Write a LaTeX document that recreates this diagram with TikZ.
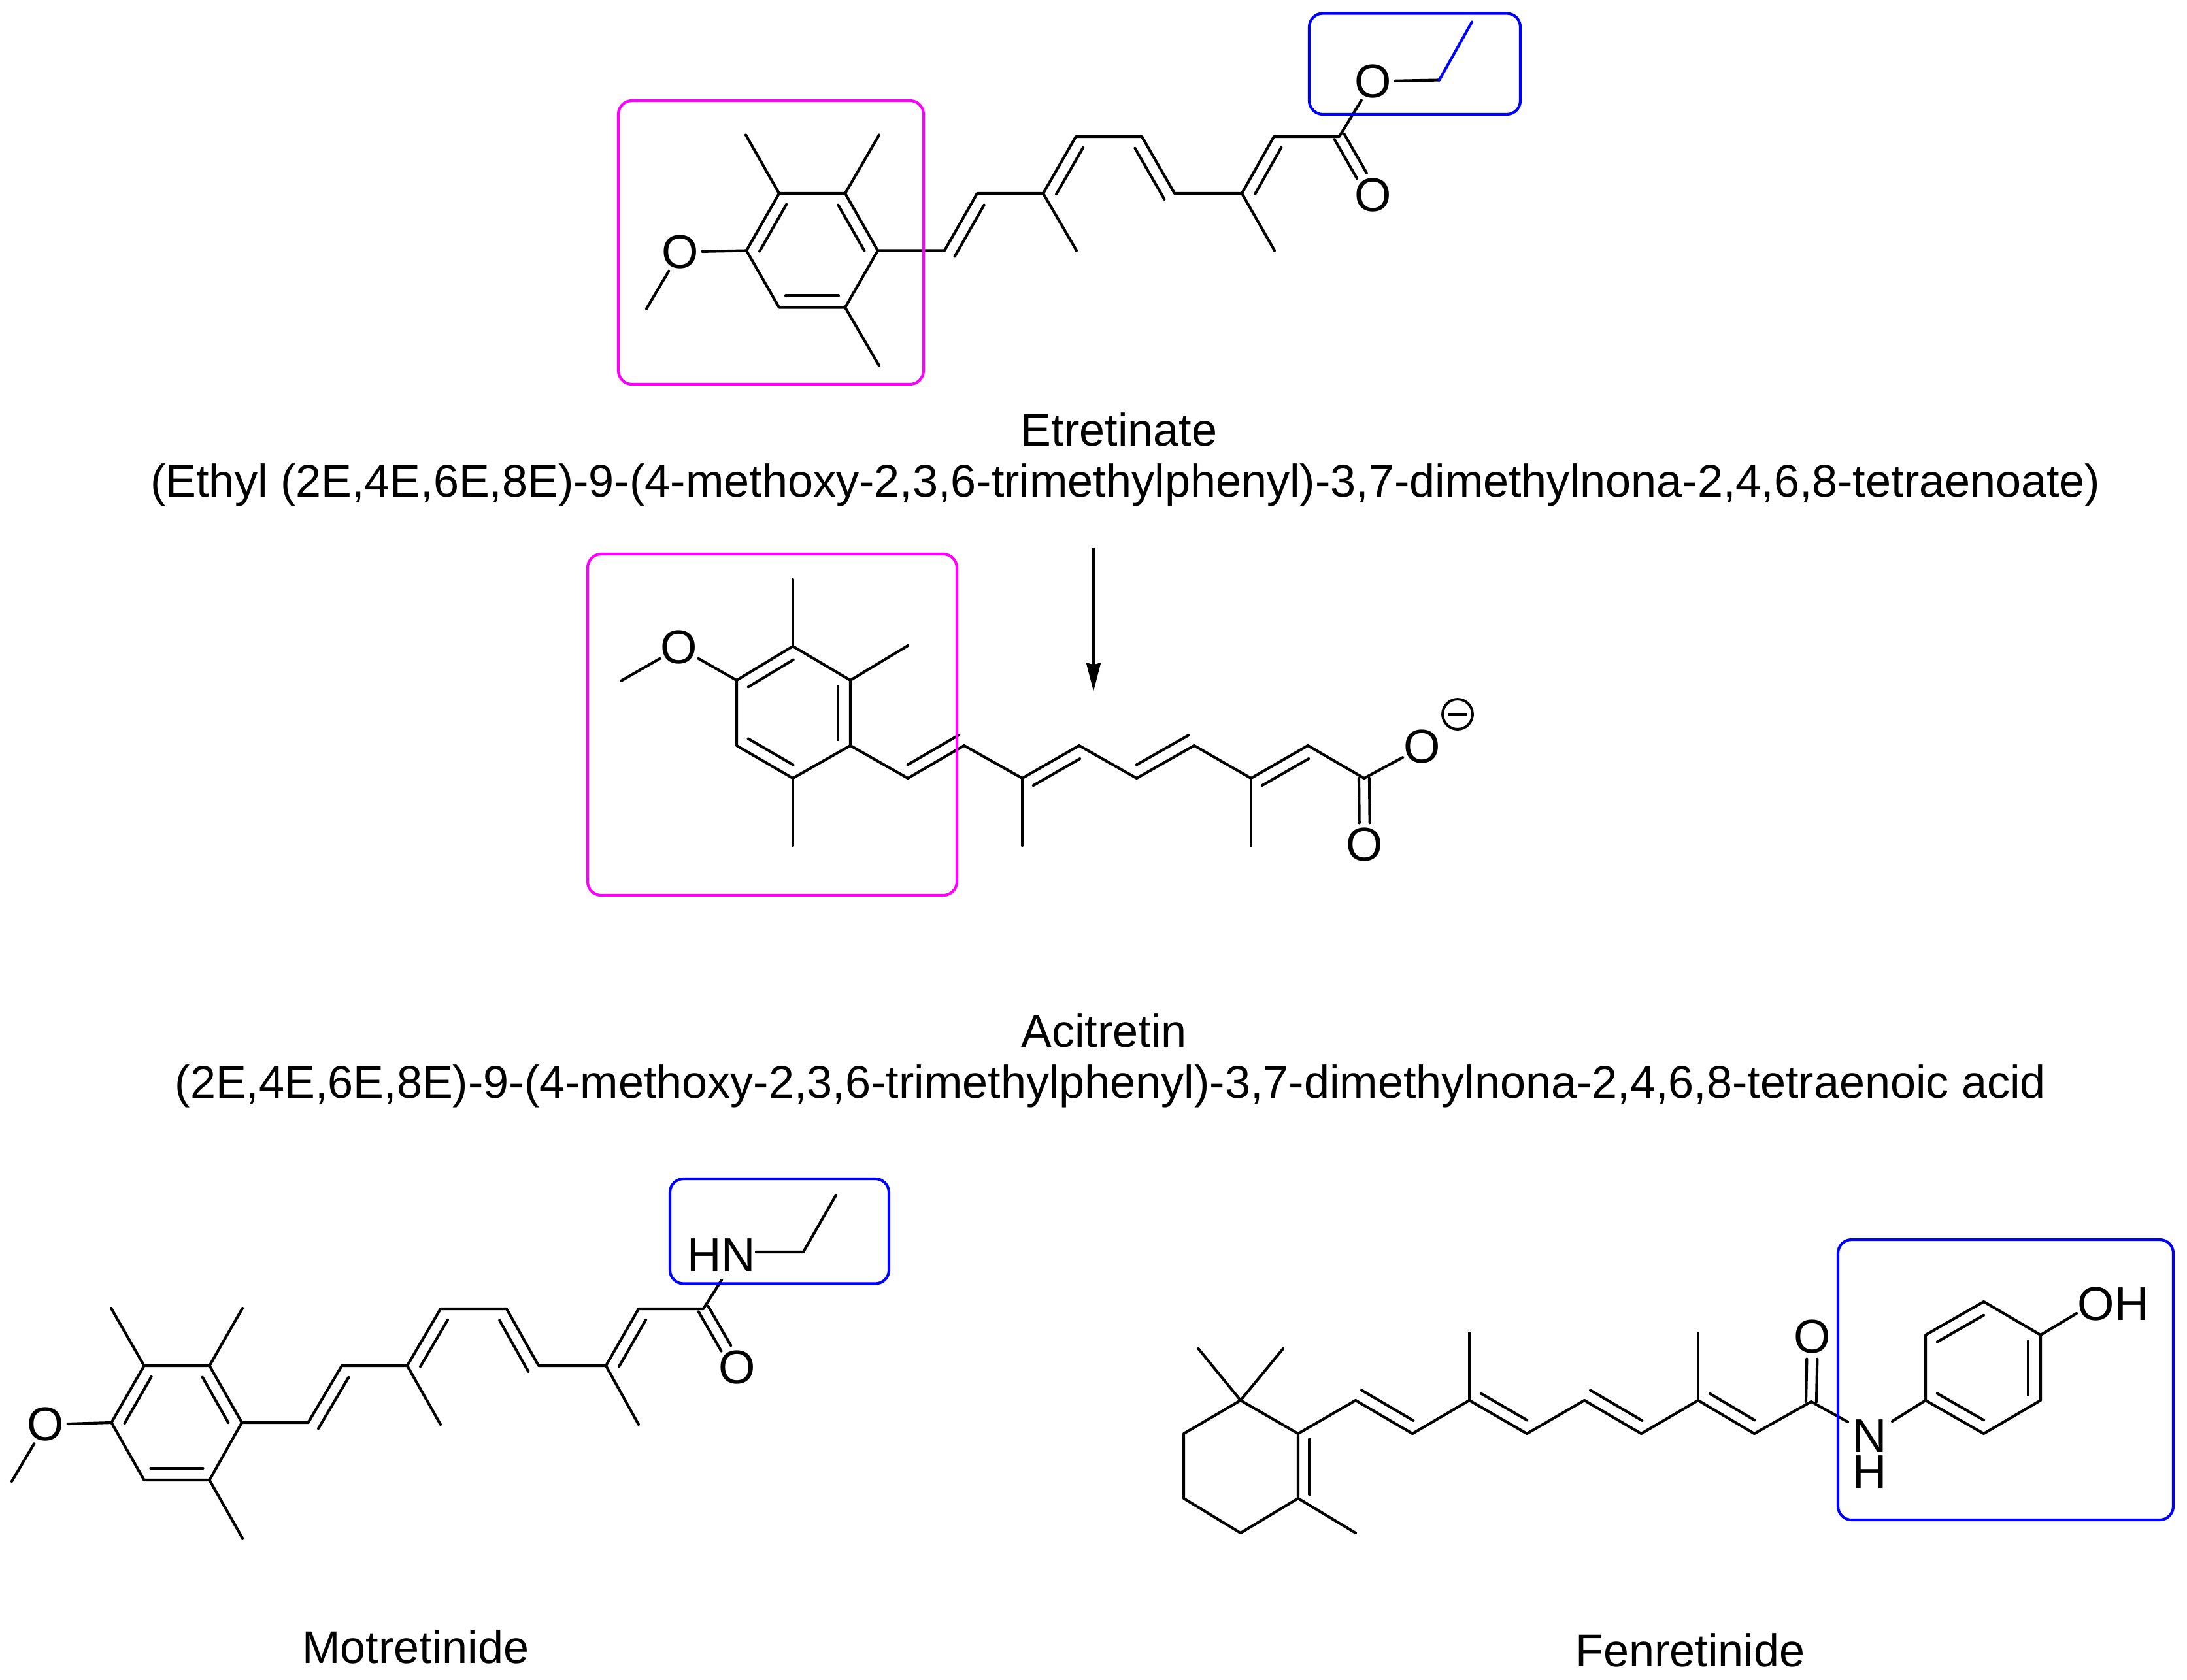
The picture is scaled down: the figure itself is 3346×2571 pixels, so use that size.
\documentclass[tikz,border=0pt]{standalone}
\usepackage{fontspec}
\usetikzlibrary{calc,arrows.meta}
\setmainfont{Liberation Sans}
\tikzset{
	bond/.style={line width=1pt,line cap=round,line join=round},
	hlbox/.style={line width=1pt,rounded corners=5pt},
	atom/.style={circle,inner sep=0pt,outer sep=-.96pt,minimum size=16.6pt,font=\fontsize{17.4}{20}\selectfont},
	group/.style={inner sep=0pt,anchor=base,font=\fontsize{17.4}{20}\selectfont},
	caption/.style={inner sep=0pt,anchor=base,font=\fontsize{16.84}{20}\selectfont}
}
\definecolor{hlpink}{RGB}{255,0,255}
\definecolor{hlblue}{RGB}{0,0,255}
% inner stroke of a double bond: atom/atom/start/end/offset in px
\newcommand{\inner}[5]{\draw[bond] ($(#1)!#3!(#2)!#5*.24pt!90:(#2)$)--($(#2)!1-#4!(#1)!#5*-.24pt!90:(#1)$);}
\begin{document}
\begin{tikzpicture}[x=.24pt,y=-.24pt]
	\useasboundingbox (0,0) rectangle (3346,2571);
	% etretinate
	\foreach \p/\x/\y in {eA/1192/296,eB/1293/296,eC/1343/383.5,eD/1293/470.5,eE/1192/470.5,eF/1142/383.5,
		eG/1141/206.5,eH/1345/206.5,eI/1345/559.5,eJ/989/472.5,
		eK/1445/383.5,eL/1495/296,eM/1596/296,eN/1646/209,eP/1747/209,eQ/1797/296,eR/1900/296,eS/1949/209,eT/2049/209,
		eU/1647/383.5,eV/1950/383.5,eW/2202/122.5,eX/2252/33.5}
	{\coordinate (\p) at (\x,\y);}
	\node[atom] (eO) at (1040.6,385.5) {O};
	\node[atom] (eOa) at (2100.5,124.5) {O};
	\node[atom] (eOb) at (2100.5,298.5) {O};
	\draw[bond] (eA)--(eB)--(eC)--(eD)--(eE)--(eF)--cycle;
	\draw[bond] (eC)--(eK)--(eL)--(eM)--(eN)--(eP)--(eQ)--(eR)--(eS)--(eT)--(eOa)--(eW);
	\foreach \a/\b in {eA/eG,eB/eH,eD/eI,eM/eU,eR/eV,eF/eO,eO/eJ}
	{\draw[bond] (\a)--(\b);}
	\draw[bond,hlblue] (eW)--(eX);
	\foreach \a/\b/\s/\t/\d in {eA/eF/.09/.91/18,eB/eC/.1/.9/-18,eE/eD/.1/.9/18,eK/eL/0/.9/-18,eM/eN/.09/.91/-18,
		eP/eQ/.1/1/-18,eR/eS/.09/.91/-18,eT/eOb/0/.67/8.5,eT/eOb/0/.67/-8.5}
	{\inner{\a}{\b}{\s}{\t}{\d}}
	\draw[hlpink,hlbox] (946,154) rectangle (1413,588);
	\draw[hlblue,hlbox] (2003,20.5) rectangle (2326,175);
	\node[caption] (eName) at (1712,682) {Etretinate};
	\node[caption] (eIupac) at (1722,760) {(Ethyl (2E,4E,6E,8E)-9-(4-methoxy-2,3,6-trimethylphenyl)-3,7-dimethylnona-2,4,6,8-tetraenoate)};
	% step arrow
	\coordinate (arrA) at (1673,838);
	\coordinate (arrB) at (1673,1058);
	\draw[line width=1pt,-{Stealth[length=10.4pt,width=5.2pt,inset=.6pt]}] (arrA)--(arrB);
	% acitretin
	\foreach \p/\x/\y in {aA/1213/989,aB/1301/1041,aC/1301/1141,aD/1213/1191,aE/1127/1141,aF/1127/1041,
		aG/1213/887,aH/1389/988,aI/1213/1294,aJ/950/1042,
		aK/1389/1191,aL/1475/1141,aM/1564/1191,aN/1651/1141,aP/1739/1191,aQ/1827/1141,aR/1914/1191,aS/2001/1141,aT/2087/1191,
		aU/1564/1294,aV/1914/1294}
	{\coordinate (\p) at (\x,\y);}
	\node[atom] (aO) at (1039,991) {O};
	\node[atom] (aOa) at (2176,1143) {O};
	\node[atom] (aOb) at (2088,1293) {O};
	\node[circle,draw,line width=.95pt,minimum size=11pt,inner sep=0pt] (aCh) at (2230,1093) {};
	\draw[line width=1.2pt] ($(aCh)+(-14,0)$)--($(aCh)+(14,0)$);
	\draw[bond] (aA)--(aB)--(aC)--(aD)--(aE)--(aF)--cycle;
	\draw[bond] (aC)--(aK)--(aL)--(aM)--(aN)--(aP)--(aQ)--(aR)--(aS)--(aT)--(aOa);
	\foreach \a/\b in {aA/aG,aB/aH,aD/aI,aM/aU,aR/aV,aF/aO,aO/aJ}
	{\draw[bond] (\a)--(\b);}
	\foreach \a/\b/\s/\t/\d in {aA/aF/.1/.9/18,aB/aC/.09/.91/-19,aE/aD/.1/.9/18,aK/aL/.1/1/18,aM/aN/.09/.91/-18,
		aP/aQ/.1/1/18,aR/aS/.09/.91/-18,aT/aOb/0/.67/8,aT/aOb/0/.67/-8}
	{\inner{\a}{\b}{\s}{\t}{\d}}
	\draw[hlpink,hlbox] (899,848) rectangle (1464,1370);
	\node[caption] (aName) at (1689,1602) {Acitretin};
	\node[caption] (aIupac) at (1699,1680) {(2E,4E,6E,8E)-9-(4-methoxy-2,3,6-trimethylphenyl)-3,7-dimethylnona-2,4,6,8-tetraenoic acid};
	% motretinide
	\foreach \p/\x/\y in {mA/220.5/2090,mB/320.5/2090,mC/370/2177,mD/320.5/2265,mE/220.5/2265,mF/170.5/2177,
		mG/170/2002,mH/371/2002,mI/371/2354,mJ/18/2267,
		mK/471.5/2177,mL/523/2090,mM/623/2090,mN/674/2003,mP/775/2003,mQ/824/2090,mR/927/2090,mS/977/2003,mT/1076/2003,
		mU/674/2180,mV/977/2180,mW/1157/1916,mX/1229/1916,mY/1279/1829,mZ/1104/1959}
	{\coordinate (\p) at (\x,\y);}
	\node[atom] (mO) at (69.7,2180) {O};
	\node[atom] (mOb) at (1128,2093) {O};
	\node[group] (mHN) at (1103.5,1945) {HN};
	\draw[bond] (mA)--(mB)--(mC)--(mD)--(mE)--(mF)--cycle;
	\draw[bond] (mC)--(mK)--(mL)--(mM)--(mN)--(mP)--(mQ)--(mR)--(mS)--(mT)--(mZ);
	\draw[bond] (mW)--(mX)--(mY);
	\foreach \a/\b in {mA/mG,mB/mH,mD/mI,mM/mU,mR/mV,mF/mO,mO/mJ}
	{\draw[bond] (\a)--(\b);}
	\foreach \a/\b/\s/\t/\d in {mA/mF/.09/.91/18,mB/mC/.1/.9/-18,mE/mD/.1/.9/18,mK/mL/0/.9/-18,mM/mN/.09/.91/-18,
		mP/mQ/.1/1/-18,mR/mS/.09/.91/-18,mT/mOb/0/.67/8.5,mT/mOb/0/.67/-8.5}
	{\inner{\a}{\b}{\s}{\t}{\d}}
	\draw[hlblue,hlbox] (1025,1804) rectangle (1360,1964.5);
	\node[caption] (mName) at (636,2545) {Motretinide};
	% fenretinide
	\foreach \p/\x/\y in {fA/1898/2143,fB/1811/2194,fC/1811/2293,fD/1898/2346,fE/1986/2293,fF/1986/2194,
		fG/1833.5/2064,fH/1963/2064,fI/2074/2346,
		fK/2074/2143,fL/2161/2194,fM/2248/2143,fN/2336/2194,fP/2424/2143,fQ/2511/2194,fR/2598/2143,fS/2684/2194,fT/2771/2145,
		fU/2248/2040,fV/2598/2040,fW/2827/2176,fX/2895/2175,
		fa/2946/2143,fb/2946/2043,fc/3035/1992,fd/3122/2043,fe/3122/2143,ff/3035/2194,fg/3177/2010}
	{\coordinate (\p) at (\x,\y);}
	\node[atom] (fOb) at (2773,2046) {O};
	\node[inner sep=0pt,align=center,font=\fontsize{17.4}{13.4}\selectfont] (fNH) at (2861,2225) {N\\H};
	\node[group] (fOH) at (3233,2020) {OH};
	\draw[bond] (fA)--(fB)--(fC)--(fD)--(fE)--(fF)--cycle;
	\draw[bond] (fF)--(fK)--(fL)--(fM)--(fN)--(fP)--(fQ)--(fR)--(fS)--(fT)--(fW);
	\draw[bond] (fX)--(fa);
	\draw[bond] (fa)--(fb)--(fc)--(fd)--(fe)--(ff)--cycle;
	\foreach \a/\b in {fA/fG,fA/fH,fE/fI,fM/fU,fR/fV,fd/fg}
	{\draw[bond] (\a)--(\b);}
	\foreach \a/\b/\s/\t/\d in {fF/fE/.085/.94/17.5,fK/fL/0/.91/18,fM/fN/.1/.9/18,fP/fQ/0/.91/18,fR/fS/.1/.9/18,
		fc/fb/.1/.9/18,fd/fe/.09/.92/-19,fa/ff/.1/.9/18,fT/fOb/0/.66/8,fT/fOb/0/.66/-8}
	{\inner{\a}{\b}{\s}{\t}{\d}}
	\draw[hlblue,hlbox] (2812,1897) rectangle (3325,2326);
	\node[caption] (fName) at (2586,2550) {Fenretinide};
\end{tikzpicture}
\end{document}
